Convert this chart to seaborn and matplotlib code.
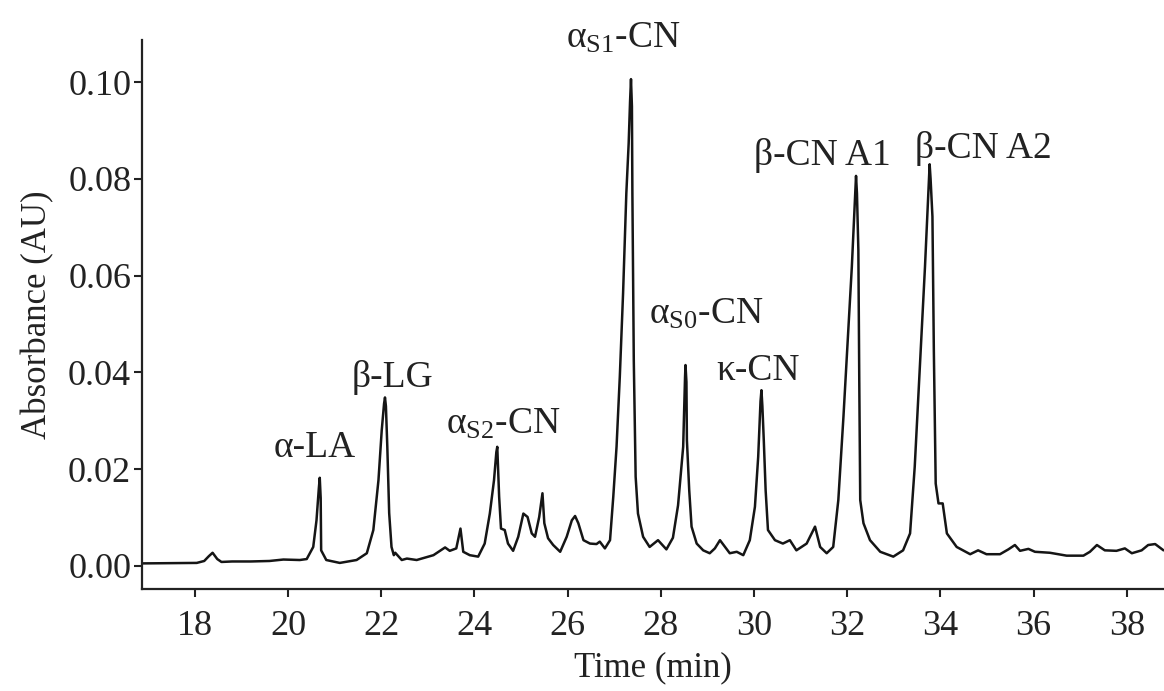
import matplotlib
matplotlib.use("Agg")
import matplotlib.pyplot as plt
import seaborn as sns
import pandas as pd

# Chromatogram trace (time in min, absorbance in AU)
time_min = [
    16.87, 18.04, 18.20, 18.30, 18.38, 18.48, 18.57, 18.80, 19.20, 19.60, 19.90, 20.25,
    20.40, 20.54, 20.61, 20.66, 20.68, 20.70, 20.71, 20.82, 21.11, 21.47, 21.69, 21.83, 21.94,
    22.01, 22.06, 22.08, 22.10, 22.13, 22.17, 22.22, 22.27, 22.30, 22.44, 22.55, 22.76, 23.12,
    23.37, 23.47, 23.61, 23.70, 23.76, 23.90, 24.08, 24.22, 24.33, 24.42, 24.47, 24.49,
    24.53, 24.57, 24.65, 24.72, 24.83, 24.94, 25.05, 25.14, 25.23, 25.30, 25.39,
    25.46, 25.50, 25.58, 25.69, 25.84, 25.98, 26.09, 26.16, 26.23, 26.34, 26.48,
    26.62, 26.69, 26.80, 26.91, 26.98, 27.05, 27.12, 27.19, 27.26, 27.31, 27.34, 27.36,
    27.38, 27.39, 27.42, 27.46, 27.51, 27.62, 27.76, 27.94, 28.12, 28.26, 28.37, 28.48,
    28.52, 28.53, 28.55, 28.56, 28.61, 28.66, 28.77, 28.91, 29.05, 29.16, 29.27, 29.38, 29.48,
    29.63, 29.77, 29.91, 30.02, 30.09, 30.14, 30.16, 30.18, 30.21, 30.25, 30.30, 30.45, 30.62,
    30.77, 30.91, 31.13, 31.31, 31.42, 31.56, 31.70, 31.81, 31.92, 32.02, 32.10,
    32.15, 32.18, 32.19, 32.21, 32.24, 32.26, 32.28, 32.35, 32.49, 32.71, 32.99, 33.20, 33.35,
    33.45, 33.56, 33.67, 33.72, 33.76, 33.77, 33.79, 33.83, 33.86, 33.90, 33.96, 34.05, 34.14,
    34.35, 34.64, 34.81, 34.99, 35.28, 35.46, 35.60, 35.71, 35.89, 36.03, 36.35,
    36.71, 37.07, 37.21, 37.36, 37.53, 37.78, 37.96, 38.11, 38.32, 38.46, 38.61,
    38.79,
]
absorbance = [
    0.0005, 0.0006, 0.0010, 0.0020, 0.0027, 0.0014, 0.0008, 0.0009, 0.0009, 0.0010, 0.0013, 0.0012,
    0.0014, 0.0039, 0.0094, 0.0160, 0.0182, 0.0140, 0.0032, 0.0012, 0.0006, 0.0012, 0.0026, 0.0074, 0.0177,
    0.0280, 0.0335, 0.0348, 0.0330, 0.0246, 0.0109, 0.0039, 0.0022, 0.0027, 0.0012, 0.0015, 0.0012, 0.0022,
    0.0038, 0.0031, 0.0036, 0.0077, 0.0029, 0.0022, 0.0019, 0.0046, 0.0108, 0.0177, 0.0235, 0.0246,
    0.0143, 0.0077, 0.0074, 0.0046, 0.0031, 0.0060, 0.0108, 0.0101, 0.0067, 0.0060, 0.0101,
    0.0150, 0.0088, 0.0057, 0.0043, 0.0029, 0.0060, 0.0094, 0.0103, 0.0088, 0.0053, 0.0046,
    0.0045, 0.0050, 0.0036, 0.0053, 0.0143, 0.0246, 0.0391, 0.0563, 0.0770, 0.0873, 0.0960, 0.1006,
    0.0950, 0.0770, 0.0425, 0.0184, 0.0108, 0.0060, 0.0039, 0.0053, 0.0034, 0.0058, 0.0125, 0.0246,
    0.0390, 0.0415, 0.0380, 0.0260, 0.0156, 0.0081, 0.0046, 0.0032, 0.0026, 0.0036, 0.0053, 0.0039, 0.0026,
    0.0029, 0.0022, 0.0053, 0.0122, 0.0225, 0.0340, 0.0363, 0.0330, 0.0260, 0.0156, 0.0074, 0.0053, 0.0046,
    0.0053, 0.0032, 0.0046, 0.0081, 0.0039, 0.0026, 0.0039, 0.0136, 0.0308, 0.0480, 0.0618,
    0.0722, 0.0785, 0.0806, 0.0770, 0.0653, 0.0377, 0.0136, 0.0088, 0.0053, 0.0029, 0.0019, 0.0032, 0.0067,
    0.0205, 0.0411, 0.0618, 0.0722, 0.0810, 0.0830, 0.0800, 0.0722, 0.0446, 0.0170, 0.0129, 0.0129, 0.0067,
    0.0039, 0.0024, 0.0032, 0.0024, 0.0024, 0.0034, 0.0043, 0.0031, 0.0035, 0.0029, 0.0027,
    0.0021, 0.0021, 0.0029, 0.0043, 0.0032, 0.0031, 0.0036, 0.0026, 0.0032, 0.0043, 0.0045,
    0.0032,
]

# Peak labels
peak_labels = [
    "α-LA", "β-LG", "α$_{\\mathrm{S2}}$-CN", "α$_{\\mathrm{S1}}$-CN",
    "α$_{\\mathrm{S0}}$-CN", "κ-CN", "β-CN A1", "β-CN A2",
]
label_time = [20.57, 22.25, 24.62, 27.19, 28.97, 30.08, 31.46, 34.93]
label_abs = [0.0224, 0.0370, 0.0274, 0.1072, 0.0500, 0.0384, 0.0828, 0.0844]

x_ticks = [18, 20, 22, 24, 26, 28, 30, 32, 34, 36, 38]
y_ticks = [0.00, 0.02, 0.04, 0.06, 0.08, 0.10]

sns.set_style("ticks")
plt.rcParams["font.family"] = ["Liberation Serif", "DejaVu Serif"]
plt.rcParams["mathtext.fontset"] = "custom"
plt.rcParams["mathtext.rm"] = "Liberation Serif"
plt.rcParams["mathtext.it"] = "Liberation Serif:italic"

fig = plt.figure(figsize=(11.64, 6.91), dpi=100)
ax = fig.add_axes([0.1222, 0.1472, 0.8778, 0.795])

df = pd.DataFrame({"Time (min)": time_min, "Absorbance (AU)": absorbance})
sns.lineplot(data=df, x="Time (min)", y="Absorbance (AU)", ax=ax,
             color="#151515", linewidth=1.8, sort=False)

ax.set_xlim(16.87, 38.80)
ax.set_ylim(-0.00485, 0.1087)
ax.set_xticks(x_ticks)
ax.set_yticks(y_ticks)
ax.set_yticklabels([f"{v:.2f}" for v in y_ticks])
ax.set_xticklabels([str(v) for v in x_ticks])

for s in ["top", "right"]:
    ax.spines[s].set_visible(False)
for s in ["left", "bottom"]:
    ax.spines[s].set_linewidth(1.6)
    ax.spines[s].set_color("#222222")

ax.tick_params(axis="both", which="major", labelsize=26, length=6, width=1.5,
               color="#222222", labelcolor="#222222")
ax.tick_params(axis="x", pad=9)
ax.tick_params(axis="y", pad=2)
ax.set_xlabel("Time (min)", fontsize=25, color="#222222", labelpad=6)
ax.set_ylabel("Absorbance (AU)", fontsize=25, color="#222222", labelpad=10)

for lbl, tx, ty in zip(peak_labels, label_time, label_abs):
    ax.text(tx, ty, lbl, ha="center", va="baseline", fontsize=27, color="#222222")

fig.savefig("out.png", dpi=100)
